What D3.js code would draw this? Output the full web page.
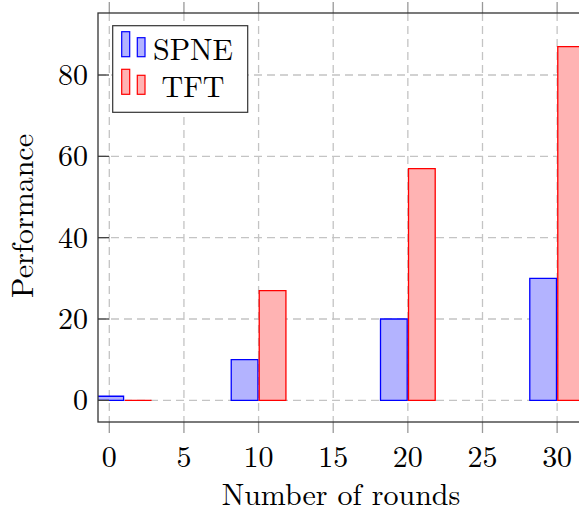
<!DOCTYPE html>
<html><head><meta charset="utf-8">
<script src="https://cdn.jsdelivr.net/npm/d3@7"></script>
<style>
body{margin:0;background:#fff;}
text{font-family:"Latin Modern Roman","CMU Serif","Liberation Serif","DejaVu Serif",serif;fill:#000;}
</style></head>
<body><svg id="c" width="579" height="514"></svg>
<script>
const rounds = [1, 10, 20, 30];
const spne = [1, 10, 20, 30];
const tft = [0, 27, 57, 87];
const xTicks = [0, 5, 10, 15, 20, 25, 30];
const yTicks = [0, 20, 40, 60, 80];
const xLimits = [-0.757, 31.8];
const yLimits = [-5.33, 95.25];
const seriesNames = ["SPNE", "TFT"];

const svg = d3.select("#c");
const L = 98, R = 584, T = 13, B = 422;
const x = d3.scaleLinear().domain(xLimits).range([L, R]);
const y = d3.scaleLinear().domain(yLimits).range([B, T]);

const gridStyle = g => g.attr("stroke", "#c4c4c4").attr("stroke-width", 1.3).attr("stroke-dasharray", "8,5");

// grid
const grid = svg.append("g");
grid.selectAll("line.vx").data(xTicks).join("line")
  .attr("x1", d => x(d)).attr("x2", d => x(d)).attr("y1", T).attr("y2", B).call(gridStyle);
grid.selectAll("line.hy").data(yTicks).join("line")
  .attr("y1", d => y(d)).attr("y2", d => y(d)).attr("x1", L).attr("x2", R).call(gridStyle);

// x ticks outside (top and bottom)
svg.append("g").selectAll("line").data(xTicks).join("line")
  .attr("x1", d => x(d)).attr("x2", d => x(d)).attr("y1", B).attr("y2", B + 11)
  .attr("stroke", "#999").attr("stroke-width", 1.3);
svg.append("g").selectAll("line").data(xTicks).join("line")
  .attr("x1", d => x(d)).attr("x2", d => x(d)).attr("y1", T).attr("y2", T - 11)
  .attr("stroke", "#999").attr("stroke-width", 1.3);

// bars (drawn as closed paths so zero-height bars still show their outline)
const bw = 26.7, shift = 14.0;
const colors = [{fill:"#b3b3ff", stroke:"#0000ff"}, {fill:"#ffb3b3", stroke:"#ff0000"}];
const series = [spne, tft];
svg.append("clipPath").attr("id","pc").append("rect")
  .attr("x", L).attr("y", T).attr("width", R - L).attr("height", B - T);
const barsG = svg.append("g").attr("clip-path", "url(#pc)");
series.forEach((vals, si) => {
  const off = si === 0 ? -shift : shift;
  barsG.selectAll("path.s" + si).data(rounds.map((r, i) => ({r, v: vals[i]}))).join("path")
    .attr("d", d => {
      const x0 = x(d.r) + off - bw / 2, x1 = x0 + bw, y0 = y(0), y1 = y(d.v);
      return `M${x0},${y0}L${x0},${y1}L${x1},${y1}L${x1},${y0}Z`;
    })
    .attr("fill", colors[si].fill).attr("stroke", colors[si].stroke).attr("stroke-width", 1.3);
});

// y ticks inside
svg.append("g").selectAll("line").data(yTicks).join("line")
  .attr("x1", L).attr("x2", L + 11).attr("y1", d => y(d)).attr("y2", d => y(d))
  .attr("stroke", "#444").attr("stroke-width", 1.3);

// frame
svg.append("rect").attr("x", L).attr("y", T).attr("width", R - L).attr("height", B - T)
  .attr("fill", "none").attr("stroke", "#333").attr("stroke-width", 1.3);

// tick labels
svg.append("g").selectAll("text").data(xTicks).join("text")
  .attr("x", d => x(d)).attr("y", 467).attr("text-anchor", "middle")
  .attr("font-size", 30).text(d => d);
svg.append("g").selectAll("text").data(yTicks).join("text")
  .attr("x", 88).attr("y", d => y(d) + 10).attr("text-anchor", "end")
  .attr("font-size", 30).text(d => d);

// axis titles
svg.append("text").attr("x", 341).attr("y", 505).attr("text-anchor", "middle")
  .attr("font-size", 30).text("Number of rounds");
svg.append("text").attr("transform", "translate(33,216) rotate(-90)")
  .attr("text-anchor", "middle").attr("font-size", 30).text("Performance");

// legend
const lg = svg.append("g");
lg.append("rect").attr("x", 112.7).attr("y", 25.7).attr("width", 135).attr("height", 86.6)
  .attr("fill", "#fff").attr("stroke", "#333").attr("stroke-width", 1.2);
const rows = [{yTop: 31.7, yTop2: 37.7, yBot: 56.7, tx: 193, ty: 59.5},
              {yTop: 69.3, yTop2: 75.3, yBot: 94.3, tx: 193, ty: 96.7}];
seriesNames.forEach((name, i) => {
  const r = rows[i];
  lg.append("rect").attr("x", 121.7).attr("y", r.yTop).attr("width", 8).attr("height", r.yBot - r.yTop)
    .attr("fill", colors[i].fill).attr("stroke", colors[i].stroke).attr("stroke-width", 1.2);
  lg.append("rect").attr("x", 137.3).attr("y", r.yTop2).attr("width", 7.7).attr("height", r.yBot - r.yTop2)
    .attr("fill", colors[i].fill).attr("stroke", colors[i].stroke).attr("stroke-width", 1.2);
  lg.append("text").attr("x", r.tx).attr("y", r.ty).attr("text-anchor", "middle")
    .attr("font-size", 30).text(name);
});
</script></body></html>
